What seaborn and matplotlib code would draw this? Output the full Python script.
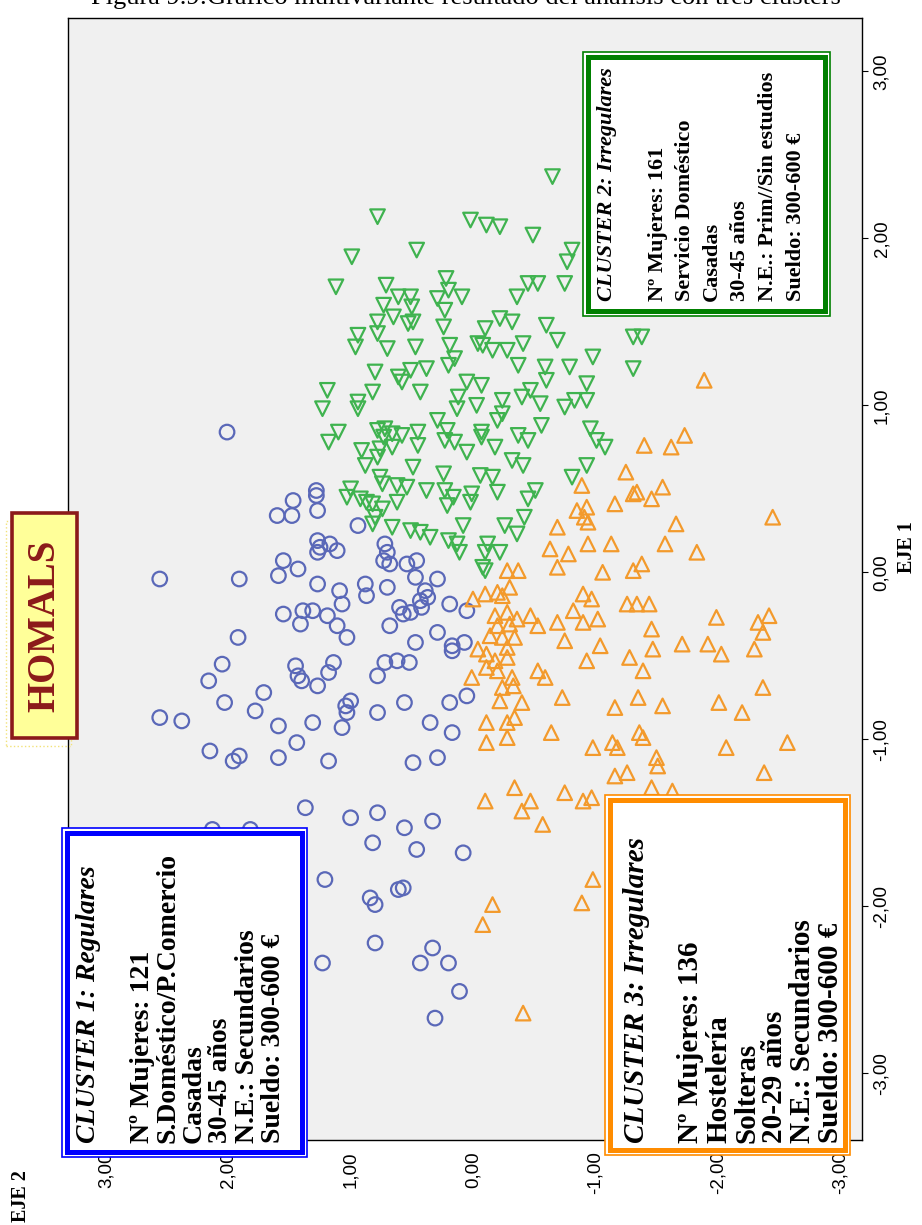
import matplotlib
matplotlib.use("Agg")
import matplotlib.pyplot as plt
import pandas as pd
import seaborn as sns
from matplotlib.patches import Rectangle

# Object scores (EJE 2, EJE 1) for each cluster
cluster1_scores = [
    (2.01, 0.84), (1.28, 0.49), (1.28, 0.46), (1.47, 0.43), (1.60, 0.34), (1.48, 0.34),
    (1.27, 0.37), (0.94, 0.28), (1.27, 0.19), (1.25, 0.15), (1.17, 0.17), (1.11, 0.13),
    (1.27, 0.12), (1.55, 0.07), (1.43, 0.02), (1.59, -0.02), (1.91, -0.04), (2.56, -0.04),
    (1.27, -0.07), (1.09, -0.11), (0.88, -0.07), (0.87, -0.14),
    (1.55, -0.25), (1.41, -0.31), (1.39, -0.23), (1.31, -0.23), (1.19, -0.26), (1.11, -0.32),
    (1.03, -0.39), (1.07, -0.19), (1.92, -0.39), (2.05, -0.55), (2.16, -0.65), (1.45, -0.56),
    (1.43, -0.62), (1.40, -0.65), (1.14, -0.54), (1.18, -0.60), (1.27, -0.68), (0.78, -0.62),
    (1.71, -0.72), (1.78, -0.83), (2.03, -0.78), (1.00, -0.77), (1.04, -0.80), (1.03, -0.84),
    (0.78, -0.84), (2.56, -0.87), (2.38, -0.89), (1.59, -0.92), (1.31, -0.90), (1.07, -0.93),
    (1.44, -1.02), (2.15, -1.07), (1.96, -1.13), (1.91, -1.10), (1.59, -1.11), (1.18, -1.13),
    (1.37, -1.41), (1.00, -1.47), (0.78, -1.44), (2.13, -1.54), (1.82, -1.54),
    (0.72, 0.17), (0.70, 0.12), (0.73, 0.07), (0.68, 0.05), (0.54, 0.05), (0.46, 0.07),
    (0.47, -0.03), (0.29, -0.04), (0.70, -0.09), (0.39, -0.11), (0.37, -0.15), (0.43, -0.17),
    (0.60, -0.21), (0.51, -0.24), (0.42, -0.21), (0.57, -0.25), (0.19, -0.19), (0.05, -0.23),
    (0.68, -0.32), (0.29, -0.36), (0.47, -0.42), (0.17, -0.44), (0.17, -0.47), (0.07, -0.42),
    (0.72, -0.54), (0.62, -0.53), (0.52, -0.54), (0.56, -0.78), (0.19, -0.78), (0.05, -0.74),
    (0.35, -0.90), (0.17, -0.96), (0.29, -1.11), (0.49, -1.14), (0.56, -1.53), (0.33, -1.49),
    (1.21, -1.84), (1.23, -2.34), (0.82, -1.62), (0.84, -1.95), (0.80, -1.99), (0.80, -2.22),
    (0.46, -1.66), (0.08, -1.68), (0.61, -1.90), (0.57, -1.89), (0.33, -2.25), (0.43, -2.34),
    (0.20, -2.34), (0.11, -2.51), (0.31, -2.67),
]

cluster2_scores = [
    (-0.65, 2.37), (0.78, 2.13), (0.02, 2.11), (-0.11, 2.08), (-0.22, 2.07), (-0.49, 2.02),
    (0.46, 1.93), (-0.81, 1.93), (-0.77, 1.86), (0.22, 1.76), (0.71, 1.72), (-0.45, 1.73),
    (-0.53, 1.73), (-0.75, 1.73), (0.20, 1.69), (0.09, 1.65), (-0.36, 1.65), (0.61, 1.65),
    (0.51, 1.65), (0.29, 1.64), (0.73, 1.60), (0.50, 1.59), (0.23, 1.57), (0.65, 1.53),
    (0.78, 1.50), (0.53, 1.49), (0.49, 1.50), (-0.22, 1.52), (-0.32, 1.50), (-0.60, 1.48),
    (0.24, 1.47), (0.78, 1.43), (-0.10, 1.46), (-0.04, 1.37), (-0.08, 1.36), (-0.69, 1.39),
    (0.70, 1.34), (0.47, 1.35), (0.19, 1.36), (-0.16, 1.33), (-0.28, 1.33), (-0.41, 1.37),
    (0.15, 1.28), (0.20, 1.24), (-0.98, 1.29), (-0.37, 1.24), (-0.59, 1.23), (-0.79, 1.23),
    (0.38, 1.22), (0.51, 1.21), (0.61, 1.17), (0.80, 1.20),
    (0.99, 1.89), (1.12, 1.71), (0.94, 1.42), (0.96, 1.35),
    (-1.31, 1.41), (-1.38, 1.41), (-1.31, 1.22),
    (1.19, 1.09), (0.94, 1.02), (0.94, 0.98), (1.23, 0.98), (1.10, 0.84), (1.18, 0.78),
    (0.91, 0.73), (0.88, 0.64), (1.00, 0.50), (1.03, 0.45), (0.92, 0.44), (0.87, 0.42),
    (0.82, 1.08),
    (0.58, 1.14), (0.43, 1.08), (0.05, 1.14), (-0.07, 1.12), (0.12, 1.05), (0.13, 0.98),
    (-0.03, 1.00), (-0.24, 1.03), (-0.40, 1.05), (-0.47, 1.09), (-0.55, 1.01), (-0.60, 1.15),
    (-0.75, 0.99), (-0.83, 1.03), (-0.93, 1.03), (-0.93, 1.13), (0.29, 0.91), (-0.20, 0.91),
    (-0.24, 0.95), (-0.56, 0.88), (0.78, 0.85), (0.72, 0.86), (0.66, 0.83), (0.58, 0.82),
    (0.73, 0.81), (0.45, 0.84), (0.45, 0.76), (0.21, 0.85), (0.23, 0.79), (0.15, 0.78),
    (-0.07, 0.84), (-0.07, 0.81), (-0.37, 0.82), (-0.45, 0.79), (-0.96, 0.86), (-1.01, 0.79),
    (-1.08, 0.75), (-0.18, 0.75), (0.05, 0.72), (0.76, 0.74), (0.66, 0.75), (0.78, 0.69),
    (-0.32, 0.67), (-0.41, 0.64), (-0.93, 0.64), (0.49, 0.63), (0.24, 0.59), (-0.06, 0.58),
    (-0.16, 0.57), (-0.81, 0.57), (0.76, 0.57), (0.74, 0.53), (0.62, 0.52), (0.54, 0.51),
    (0.38, 0.49), (0.23, 0.49), (0.16, 0.45), (0.21, 0.40), (0.01, 0.47), (0.02, 0.42),
    (-0.20, 0.48), (-0.51, 0.49), (-0.45, 0.44), (-0.42, 0.33), (0.82, 0.41), (0.74, 0.38),
    (0.80, 0.33), (0.82, 0.29), (0.62, 0.42), (0.66, 0.27), (0.51, 0.25), (0.43, 0.24),
    (0.35, 0.21), (0.08, 0.28), (-0.26, 0.28), (-0.36, 0.23), (0.20, 0.19), (0.13, 0.17),
    (0.11, 0.12), (-0.12, 0.17), (-0.10, 0.12), (-0.22, 0.12), (-0.08, 0.03), (-0.10, 0.01),
]

cluster3_scores = [
    (-1.89, 1.15), (-1.73, 0.82), (-1.40, 0.76), (-1.62, 0.75), (-1.25, 0.60), (-1.31, 0.47),
    (-1.34, 0.48), (-1.55, 0.51), (-1.46, 0.44), (-1.16, 0.41), (-1.66, 0.29), (-2.45, 0.33),
    (-1.13, 0.17), (-1.57, 0.17), (-1.83, 0.12), (-1.06, 0.00), (-1.31, 0.01), (-1.38, 0.05),
    (-1.26, -0.19), (-1.34, -0.19), (-1.44, -0.19),
    (-0.89, 0.52), (-0.85, 0.37), (-0.93, 0.39), (-0.91, 0.33), (-0.94, 0.30), (-0.69, 0.27),
    (-0.63, 0.14), (-0.78, 0.11), (-0.94, 0.17), (-0.69, 0.03), (-0.28, 0.01), (-0.37, 0.01),
    (-0.30, -0.09), (-0.10, -0.13), (-0.20, -0.12), (-0.24, -0.14), (0.00, -0.16), (-0.90, -0.13),
    (-0.97, -0.16),
    (-0.18, -0.26), (-0.28, -0.24), (-0.36, -0.28), (-0.47, -0.26), (-0.53, -0.32), (-0.20, -0.32),
    (-0.30, -0.31), (-0.34, -0.39), (-0.14, -0.38), (-0.24, -0.39), (-0.69, -0.30), (-0.82, -0.23),
    (-0.90, -0.30), (-1.02, -0.28), (-0.75, -0.41), (-1.04, -0.44), (-0.04, -0.46), (-0.11, -0.49),
    (-0.18, -0.53), (-0.28, -0.51), (-0.20, -0.59), (-0.11, -0.57), (-0.28, -0.45), (-0.93, -0.53),
    (0.01, -0.63), (-0.32, -0.63), (-0.33, -0.68), (-0.24, -0.69), (-0.22, -0.77), (-0.53, -0.59),
    (-0.59, -0.63), (-0.73, -0.75), (-0.40, -0.78), (-0.34, -0.87), (-0.11, -0.90), (-0.28, -0.90),
    (-0.11, -1.02), (-0.28, -0.99), (-0.64, -0.96), (-0.98, -1.05), (-0.34, -1.29), (-0.75, -1.32),
    (-0.10, -1.37), (-0.47, -1.37), (-0.40, -1.43), (-0.90, -1.37), (-0.97, -1.35), (-0.57, -1.51),
    (-1.46, -0.34), (-1.47, -0.46), (-1.71, -0.43), (-1.99, -0.27), (-2.33, -0.30), (-2.42, -0.26),
    (-2.37, -0.36), (-1.92, -0.43), (-2.03, -0.49), (-2.30, -0.46), (-1.28, -0.51), (-1.39, -0.59),
    (-2.37, -0.69), (-1.16, -0.81), (-1.35, -0.75), (-1.55, -0.80), (-2.01, -0.78), (-2.20, -0.84),
    (-1.36, -0.96), (-1.39, -0.99), (-1.14, -1.02), (-1.18, -1.05), (-1.50, -1.11), (-1.51, -1.16),
    (-2.07, -1.05), (-2.57, -1.02), (-1.16, -1.22), (-1.26, -1.20), (-2.38, -1.20), (-1.46, -1.29),
    (-1.63, -1.31),
    (-0.16, -1.99), (-0.08, -2.11), (-0.98, -1.84), (-0.89, -1.98), (-0.41, -2.64),
]

tick_values = [3, 2, 1, 0, -1, -2, -3]
tick_labels = ["3,00", "2,00", "1,00", "0,00", "-1,00", "-2,00", "-3,00"]

cluster_names = ["Cluster 1", "Cluster 2", "Cluster 3"]
cluster_colors = ["#5A68B8", "#3FB34F", "#F39A2C"]
cluster_markers = ["o", "v", "^"]

cluster_texts = [
    ("CLUSTER 1: Regulares",
     ["Nº Mujeres: 121", "S.Doméstico/P.Comercio", "Casadas", "30-45 años",
      "N.E.: Secundarios", "Sueldo: 300-600 €"]),
    ("CLUSTER 2: Irregulares",
     ["Nº Mujeres: 161", "Servicio Doméstico", "Casadas", "30-45 años",
      "N.E.: Prim//Sin estudios", "Sueldo: 300-600 €"]),
    ("CLUSTER 3: Irregulares",
     ["Nº Mujeres: 136", "Hostelería", "Solteras", "20-29 años",
      "N.E.: Secundarios", "Sueldo: 300-600 €"]),
]

frames = []
for name, scores in zip(cluster_names, [cluster1_scores, cluster2_scores, cluster3_scores]):
    df = pd.DataFrame(scores, columns=["EJE 2", "EJE 1"])
    df["cluster"] = name
    frames.append(df)
data = pd.concat(frames, ignore_index=True)

sns.set_style("white")
plt.rcParams.update({
    "text.color": "black",
    "axes.labelcolor": "black",
    "xtick.color": "black",
    "ytick.color": "black",
})
serif = "Liberation Serif"
sans = "Liberation Sans"

W, H = 922, 1225
fig = plt.figure(figsize=(W / 100, H / 100), dpi=100)


def fx(px):
    return px / W


def fy(py):
    return 1 - py / H


ax = fig.add_axes([fx(68), fy(1140), fx(862) - fx(68), fy(18) - fy(1140)])
ax.set_facecolor("#F0F0F0")

for name, color, marker in zip(cluster_names, cluster_colors, cluster_markers):
    sub = data[data["cluster"] == name]
    sns.scatterplot(data=sub, x="EJE 2", y="EJE 1", ax=ax, marker=marker, s=110,
                    color=color, facecolors="none", edgecolor=color, linewidth=1.6,
                    legend=False, zorder=3)

ax.set_xlim(3.31, -3.18)
ax.set_ylim(-3.40, 3.32)
ax.set_xlabel("")
ax.set_ylabel("")

ax.set_xticks(tick_values)
ax.set_xticklabels(tick_labels, rotation=90, fontsize=13.5, family=sans)
ax.yaxis.tick_right()
ax.set_yticks(tick_values)
ax.set_yticklabels(tick_labels, rotation=90, va="center", fontsize=13.5, family=sans)
ax.tick_params(axis="both", length=4, width=0.8, color="black", pad=4)
for sp in ax.spines.values():
    sp.set_color("black")
    sp.set_linewidth(1.0)

# Axis titles
fig.text(fx(907), fy(547), "EJE 1", rotation=90, ha="center", va="center",
         fontsize=14.5, fontweight="bold", family=serif)
fig.text(fx(21), fy(1196), "EJE 2", rotation=90, ha="center", va="center",
         fontsize=14.5, fontweight="bold", family=serif)

# Figure caption along the top edge
fig.text(0.505, fy(4), "Figura 9.9:Gráfico multivariante resultado del análisis con tres clusters",
         ha="center", va="baseline", fontsize=19, family=serif)

# HOMALS label
fig.add_artist(Rectangle((fx(6), fy(746)), fx(65), fy(521) - fy(746), transform=fig.transFigure,
                         facecolor="none", edgecolor="#F2E27A", linewidth=1.0, linestyle=":"))
fig.add_artist(Rectangle((fx(12), fy(738)), fx(65), fy(513) - fy(738), transform=fig.transFigure,
                         facecolor="#FFFF99", edgecolor="#8B1A1A", linewidth=2.6, zorder=5))
fig.text(fx(45), fy(626), "HOMALS", rotation=90, ha="center", va="center",
         fontsize=28, fontweight="bold", family=serif, color="#8B1A1A", zorder=6)


def cluster_box(x0, y0, x1, y1, color, title, lines, title_x, line_x, text_y, size):
    fig.add_artist(Rectangle((fx(x0), fy(y1)), fx(x1 - x0), fy(y0) - fy(y1),
                             transform=fig.transFigure, facecolor="white",
                             edgecolor=color, linewidth=1.2, zorder=5))
    fig.add_artist(Rectangle((fx(x0 + 5), fy(y1 - 5)), fx(x1 - x0 - 10), fy(y0 + 5) - fy(y1 - 5),
                             transform=fig.transFigure, facecolor="white",
                             edgecolor=color, linewidth=3.6, zorder=5))
    fig.text(fx(title_x), fy(text_y), title, rotation=90, rotation_mode="anchor",
             ha="left", va="center", fontsize=size, fontweight="bold", fontstyle="italic",
             family=serif, zorder=6)
    for i, line in enumerate(lines):
        fig.text(fx(line_x[i]), fy(text_y), line, rotation=90, rotation_mode="anchor",
                 ha="left", va="center", fontsize=size, fontweight="bold", family=serif, zorder=6)


cluster_box(62, 828, 307, 1157, "#0000FF", cluster_texts[0][0], cluster_texts[0][1],
            88, [142, 168, 194, 220, 247, 273], 1143, 20)
cluster_box(583, 52, 830, 316, "#008000", cluster_texts[1][0], cluster_texts[1][1],
            607, [658, 685, 712, 740, 768, 796], 301, 16)
cluster_box(605, 795, 850, 1155, "#FF8C00", cluster_texts[2][0], cluster_texts[2][1],
            636, [690, 719, 747, 775, 802, 830], 1143, 21)

fig.savefig("out.png", dpi=100)
